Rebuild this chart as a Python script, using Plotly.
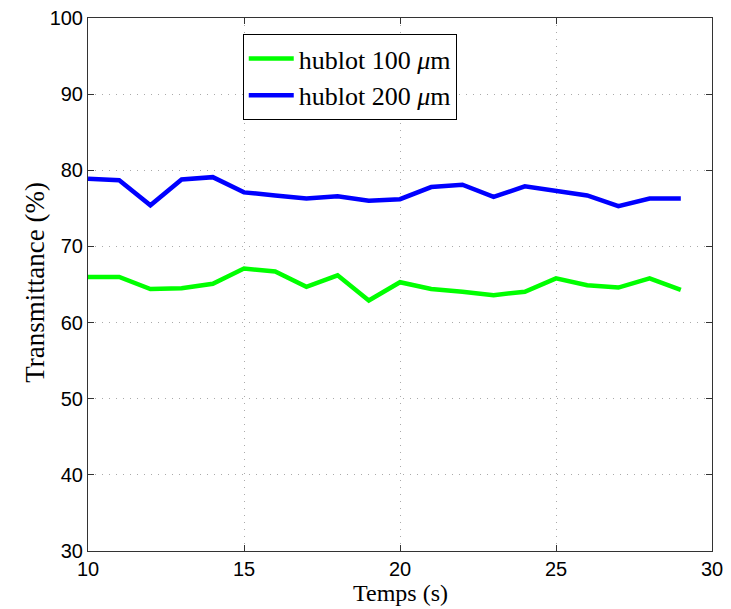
import plotly.graph_objects as go

temps = list(range(10, 30))
hublot_100 = [66.0, 66.0, 64.4, 64.5, 65.1, 67.1, 66.7, 64.7, 66.2, 62.9,
              65.3, 64.4, 64.05, 63.6, 64.05, 65.8, 64.9, 64.6, 65.8, 64.3]
hublot_200 = [78.9, 78.7, 75.4, 78.8, 79.1, 77.1, 76.7, 76.3, 76.6, 76.0,
              76.2, 77.8, 78.1, 76.5, 77.9, 77.3, 76.7, 75.3, 76.3, 76.3]

names = ["hublot 100 <i>μ</i>m", "hublot 200 <i>μ</i>m"]
colors = ["#00ff00", "#0000ff"]

fig = go.Figure()
for ys, nm, c in zip([hublot_100, hublot_200], names, colors):
    fig.add_trace(go.Scatter(x=temps, y=ys, mode="lines", name=nm,
                             line=dict(color=c, width=4.5)))

serif = "Liberation Serif, DejaVu Serif, serif"
axis_common = dict(
    showline=True, linecolor="#333333", linewidth=1, mirror="ticks",
    ticks="inside", ticklen=6, tickcolor="#333333",
    showgrid=True, gridcolor="#aaaaaa", griddash="1px,6px", gridwidth=1,
    zeroline=False, automargin=False, ticklabeloverflow="allow",
    tickfont=dict(family="Liberation Sans, Arial", size=20, color="black"),
)

fig.update_layout(
    width=723, height=601,
    margin=dict(l=80, r=19, t=10, b=58),
    paper_bgcolor="white", plot_bgcolor="white",
    xaxis=dict(range=[10, 30], dtick=5, **axis_common),
    yaxis=dict(range=[30, 100], dtick=10, **axis_common),
    legend=dict(x=0.248, y=0.97, xanchor="left", yanchor="top",
                bgcolor="white", bordercolor="black", borderwidth=1,
                font=dict(family=serif, size=26, color="black"),
                tracegroupgap=0, itemwidth=45),
    showlegend=True,
    annotations=[
        dict(text="Temps (s)", xref="paper", yref="paper", x=0.5, y=-0.078,
             xanchor="center", yanchor="middle", showarrow=False,
             font=dict(family=serif, size=24, color="black")),
        dict(text="Transmittance (%)", xref="paper", yref="paper", x=-0.085, y=0.505,
             xanchor="center", yanchor="middle", showarrow=False, textangle=-90,
             font=dict(family=serif, size=27, color="black")),
    ],
)

fig.write_html("out.html")
